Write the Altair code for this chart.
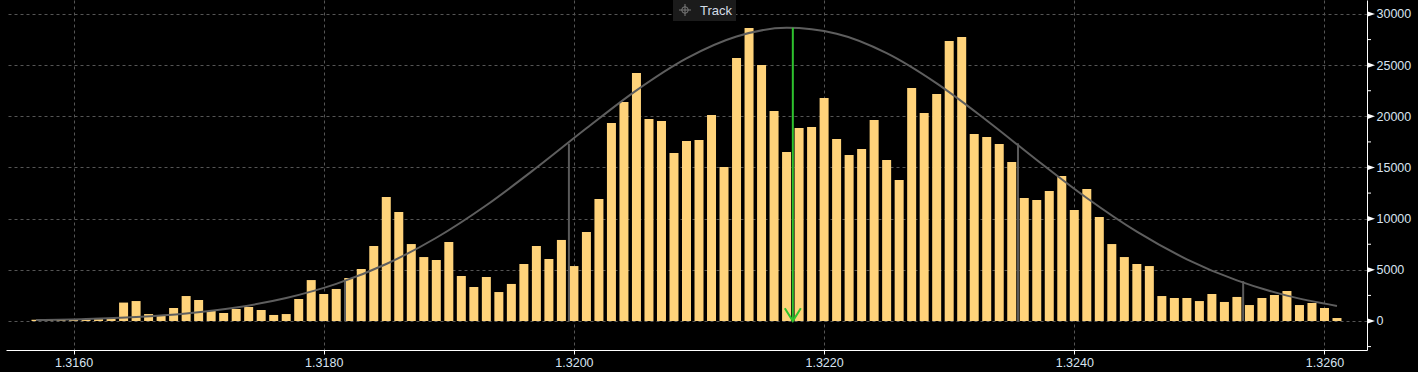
import altair as alt
import pandas as pd

# ---------------- data ----------------
first_price = 1.3157
bin_step = 0.0001
counts = [
    120, 120, 130, 150, 160, 180, 250, 1800, 1950, 680,
    550, 1270, 2440, 2050, 980, 780, 1170, 1370, 1075, 590,
    680, 2150, 4000, 2640, 3130, 4200, 5080, 7330, 12120, 10650,
    7520, 6250, 5960, 7720, 4400, 3320, 4300, 2830, 3620, 5570,
    7330, 6060, 7920, 5370, 8700, 11920, 19350, 21400, 24230, 19740,
    19540, 16420, 17590, 17690, 20130, 15050, 25700, 28630, 25020, 20520,
    16510, 18860, 18960, 21790, 17790, 16220, 16810, 19640, 15730, 13780,
    22770, 20330, 22180, 27360, 27750, 18270, 17980, 17300, 15540, 12020,
    11820, 12700, 14170, 10850, 12900, 10160, 7520, 6250, 5570, 5370,
    2440, 2250, 2250, 1950, 2640, 1860, 2350, 1560, 2250, 2540,
    2930, 1560, 1760, 1270, 290,
]
prices = [round(first_price + i * bin_step, 4) for i in range(len(counts))]

curve_x = [1.3157, 1.3161, 1.3165, 1.3169, 1.3173, 1.3177, 1.3181, 1.3185, 1.3189,
           1.3193, 1.3197, 1.3201, 1.3205, 1.3209, 1.3213, 1.3217, 1.3221, 1.3225,
           1.3229, 1.3233, 1.3237, 1.3241, 1.3245, 1.3249, 1.3253, 1.3257, 1.3261]
curve_y = [100, 200, 395, 740, 1320, 2245, 3625, 5570, 8135,
           11315, 14970, 18830, 22540, 25660, 27800, 28650, 28075, 26180,
           23225, 19600, 15730, 12015, 8725, 6030, 3965, 2480, 1475]

sd_x = [1.31817, 1.31996, 1.32355, 1.32535]
sd_y = [3900, 17330, 17360, 3900]

mean_x = [1.32175]
mean_y = [28650]

x_ticks = [1.316, 1.318, 1.320, 1.322, 1.324, 1.326]
y_ticks = [0, 5000, 10000, 15000, 20000, 25000, 30000]
y_minor = [-2500, 2500, 7500, 12500, 17500, 22500, 27500]

# ---------------- chart ----------------
W, H = 1361, 350
FONT = "Liberation Sans"
LABEL_COLOR = "#d8e4f0"
GRID = "#555555"

x_scale = alt.Scale(domain=[1.3155, 1.3263], nice=False, zero=False)
y_scale = alt.Scale(domain=[-2834, 31368], nice=False, zero=False)

df_bars = pd.DataFrame({"x": prices, "y": counts})
df_curve = pd.DataFrame({"x": curve_x, "y": curve_y})
df_sd = pd.DataFrame({"x": sd_x, "y": sd_y})
df_mean = pd.DataFrame({"x": mean_x, "y": mean_y})
df_major = pd.DataFrame({"y": y_ticks})
df_minor = pd.DataFrame({"y": y_minor})
df_one = pd.DataFrame({"a": [0]})

x_axis = alt.Axis(values=x_ticks, format=".4f", title=None, grid=True,
                  gridColor=GRID, gridDash=[3, 3], gridWidth=1,
                  domainColor="white", domainWidth=1, tickColor="white",
                  tickSize=4, labelColor=LABEL_COLOR, labelFont=FONT,
                  labelFontSize=12.5, labelPadding=2)
y_axis = alt.Axis(orient="right", values=y_ticks, format="d", title=None,
                  grid=True, gridColor=GRID, gridDash=[3, 3], gridWidth=1,
                  domainColor="white", domainWidth=1, ticks=False,
                  labelColor=LABEL_COLOR, labelFont=FONT, labelFontSize=12.5,
                  labelPadding=9)


def X():
    return alt.X("x:Q", scale=x_scale, axis=x_axis)


def Y():
    return alt.Y("y:Q", scale=y_scale, axis=y_axis)


bars = alt.Chart(df_bars).mark_bar(size=9, color="#FFD37A").encode(
    x=X(), y=Y(), y2=alt.datum(0),
)

curve = alt.Chart(df_curve).mark_line(
    color="#5e5e5e", strokeWidth=2, interpolate="monotone"
).encode(x=X(), y=Y())

sd_rules = alt.Chart(df_sd).mark_rule(color="#5a5a5a", strokeWidth=2).encode(
    x=X(), y=Y(), y2=alt.datum(0),
)

GREEN = "#2ec22e"
mean_rule = alt.Chart(df_mean).mark_rule(color=GREEN, strokeWidth=2).encode(
    x=X(), y=Y(), y2=alt.datum(0),
)
arrow_head = alt.Chart(df_mean).mark_point(
    shape="M-1,-1.6L0,0L1,-1.6", filled=False, stroke=GREEN, strokeWidth=2,
    size=256, opacity=1,
).encode(x=X(), y=alt.YDatum(0))

minor_ticks = alt.Chart(df_minor).mark_point(
    shape="M0,0L1,0", filled=False, stroke="white", strokeWidth=1, size=64, opacity=1,
).encode(x=alt.value(W), y=Y())
major_ticks = alt.Chart(df_major).mark_point(
    shape="M0,-0.7L0,0.7L2,0Z", filled=True, fill="white", strokeWidth=0,
    size=64, opacity=1,
).encode(x=alt.value(W), y=Y())

# "Track" button overlay
track_box = alt.Chart(df_one).mark_rect(color="#1b1b1b").encode(
    x=alt.value(667), x2=alt.value(730), y=alt.value(0), y2=alt.value(21),
)
track_text = alt.Chart(df_one).mark_text(
    text="Track", align="left", baseline="alphabetic", font=FONT,
    fontSize=13, color="#d4dce6",
).encode(x=alt.value(694), y=alt.value(15))
track_ring = alt.Chart(df_one).mark_point(
    shape="circle", filled=False, stroke="#7a7a7a", strokeWidth=1, size=42, opacity=1,
).encode(x=alt.value(679), y=alt.value(10))
track_cross = alt.Chart(df_one).mark_point(
    shape="M-1,0L1,0M0,-1L0,1", filled=False, stroke="#7a7a7a", strokeWidth=1,
    size=144, opacity=1,
).encode(x=alt.value(679), y=alt.value(10))

chart = alt.layer(
    bars, sd_rules, curve, mean_rule, arrow_head, minor_ticks, major_ticks,
    track_box, track_ring, track_cross, track_text,
).properties(
    width=W, height=H,
    padding={"left": 6, "top": 0, "right": 51, "bottom": 22},
    autosize=alt.AutoSizeParams(type="none"),
    background="#000000",
).configure_view(stroke=None)

chart.save("out.html", embed_options={"renderer": "svg", "actions": False})
